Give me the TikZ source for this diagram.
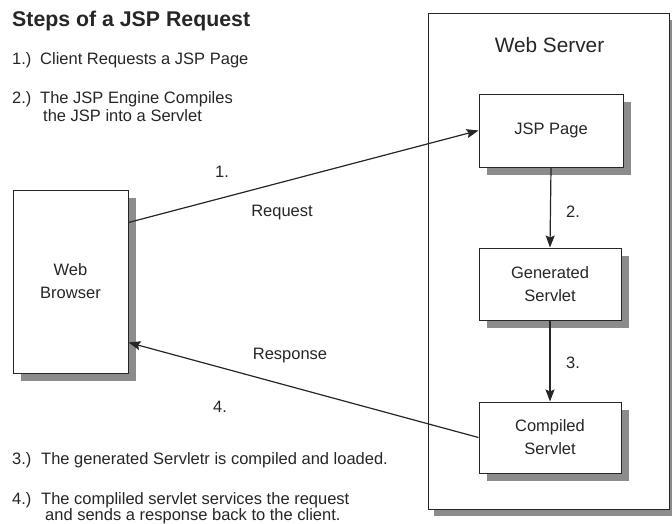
\documentclass[tikz,border=0pt]{standalone}
\usepackage{fontspec}
\setmainfont{Liberation Sans}
\usetikzlibrary{arrows.meta,shadows}
\definecolor{ink}{HTML}{262626}
\definecolor{shade}{HTML}{8C8C8C}
\tikzset{
  txt/.style={inner sep=0pt, text=ink, font=\fontsize{16.5}{18}\selectfont},
  lbl/.style={inner sep=0pt, text=ink, font=\fontsize{16.5}{18}\selectfont},
  box/.style={draw=ink, line width=1pt, fill=white, align=center, text=ink,
    font=\fontsize{16.5}{23}\selectfont, inner sep=0pt,
    drop shadow={shadow xshift=8pt, shadow yshift=-8pt, fill=shade, opacity=1}},
  outer/.style={draw=ink, line width=1pt, fill=white, inner sep=0pt,
    drop shadow={shadow xshift=6pt, shadow yshift=-7pt, fill=shade, opacity=1}},
  arr/.style={draw=ink, line width=1.2pt, -{Stealth[length=12pt,width=9pt,inset=2pt]}}
}
\begin{document}
\begin{tikzpicture}[x=1pt,y=-1pt]
\useasboundingbox (0,0) rectangle (672,523);
% title and notes
\node[inner sep=0pt, anchor=base west, text=ink, font=\fontsize{21.3}{24}\selectfont\bfseries] (title) at (12,26) {Steps of a JSP Request};
\node[txt, anchor=base west] (n1) at (12,64) {1.)};
\node[txt, anchor=base west] (t1) at (40,64) {Client Requests a JSP Page};
\node[txt, anchor=base west] (n2) at (12,103) {2.)};
\node[txt, anchor=base west] (t2) at (40,103) {The JSP Engine Compiles};
\node[txt, anchor=base west] (t2b) at (43,121) {the JSP into a Servlet};
\node[txt, anchor=base west] (n3) at (12,464) {3.)};
\node[txt, anchor=base west] (t3) at (41,464) {The generated Servletr is compiled and loaded.};
\node[txt, anchor=base west] (n4) at (12,504) {4.)};
\node[txt, anchor=base west] (t4) at (41,504) {The compliled servlet services the request};
\node[txt, anchor=base west] (t4b) at (45,520) {and sends a response back to the client.};
% web server container
\node[outer, minimum width=241pt, minimum height=496pt] (ws) at (548.5,261) {};
\node[inner sep=0pt, text=ink, font=\fontsize{20.8}{24}\selectfont] (wst) at (549.5,45) {Web Server};
% boxes
\node[box, minimum width=144pt, minimum height=73pt] (jsp) at (551,130.5) {JSP Page};
\node[box, minimum width=142pt, minimum height=72pt] (gen) at (550,284) {Generated\\Servlet};
\node[box, minimum width=142pt, minimum height=71pt] (comp) at (550,437.5) {Compiled\\Servlet};
\node[box, minimum width=115pt, minimum height=183pt] (br) at (70.5,281.5) {Web\\Browser};
% connectors
\draw[arr] ([yshift=-33pt]br.north east) -- (jsp.west);
\draw[arr] (jsp.south) -- (gen.north);
\draw[arr] (gen.south) -- (comp.north);
\draw[arr] (comp.west) -- ([yshift=31pt]br.south east);
% labels
\node[lbl] (l1) at (222,172) {1.};
\node[lbl] (lreq) at (282,213) {Request};
\node[lbl] (lresp) at (290,356) {Response};
\node[lbl] (l4) at (220,407) {4.};
\node[lbl] (l2) at (573,212) {2.};
\node[lbl] (l3) at (573,363) {3.};
\end{tikzpicture}
\end{document}
